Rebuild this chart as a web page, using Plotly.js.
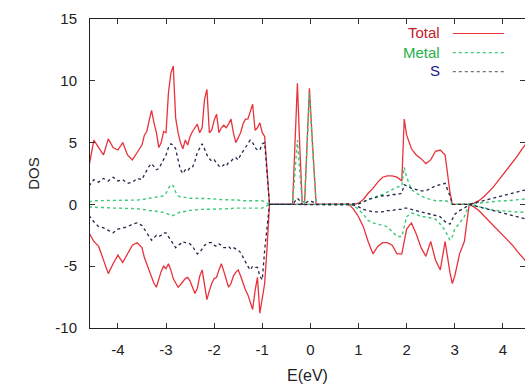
<!DOCTYPE html>
<html><head><meta charset="utf-8">
<script src="https://cdn.plot.ly/plotly-3.0.1.min.js"></script>
<style>html,body{margin:0;padding:0;background:#fff}#chart{width:525px;height:385px}</style>
</head><body><div id="chart"></div>
<script>
// Energy grid (eV): valence band, gap states, conduction band
const energy = [
  -4.6,-4.5,-4.4,-4.3,-4.2,-4.1,-4.0,-3.9,-3.8,-3.7,-3.6,
  -3.5,-3.45,-3.4,-3.35,-3.3,-3.25,-3.2,-3.15,-3.1,-3.05,
  -3.0,-2.95,-2.9,-2.85,-2.8,-2.75,-2.7,-2.65,-2.6,-2.55,
  -2.5,-2.45,-2.4,-2.35,-2.3,-2.25,-2.2,-2.15,-2.1,-2.05,
  -2.0,-1.95,-1.9,-1.85,-1.8,-1.75,-1.7,-1.65,-1.6,-1.55,
  -1.5,-1.45,-1.4,-1.35,-1.3,-1.25,-1.2,-1.15,-1.1,-1.05,
  -1.0,-0.95,-0.9,
  -0.85,-0.37,-0.32,-0.27,-0.22,-0.17,-0.12,-0.07,-0.02,0.05,0.12,
  0.8,0.9,1.0,1.1,1.2,1.3,1.4,1.5,1.6,1.7,
  1.8,1.9,1.95,2.0,2.1,2.2,2.3,2.4,2.5,2.6,
  2.7,2.8,2.9,2.95,3.0,3.1,3.2,3.3,3.4,3.5,
  3.6,3.7,3.8,3.9,4.0,4.1,4.2,4.3,4.4,4.5
];
// Spin up
const totalUp = [
  3.1,5.2,4.6,4.0,5.3,4.6,4.4,5.0,4.0,3.6,4.2,
  4.8,5.6,5.9,6.8,7.6,6.6,5.8,4.6,5.0,5.9,
  5.8,9.0,10.6,11.2,7.0,5.8,5.0,4.5,5.2,4.8,
  5.5,5.9,6.2,6.5,5.8,6.2,8.5,9.3,5.8,6.0,
  6.8,7.3,5.8,6.2,6.4,6.2,6.5,6.9,5.8,5.0,
  5.4,5.8,6.5,6.9,6.9,7.5,8.1,6.0,6.2,6.6,
  5.8,5.5,2.8,
  0,0,5.0,9.8,4.6,0.2,0.2,4.8,9.4,4.5,0,
  0,0,0.1,0.4,0.9,1.3,1.8,2.2,2.3,2.3,
  2.2,1.9,6.9,5.6,4.5,4.0,3.7,3.3,3.6,4.3,
  4.4,4.0,1.0,0,0,0,0,0,0.1,0.3,
  0.6,1.0,1.4,1.9,2.4,2.9,3.4,3.9,4.5,5.0
];
const metalUp = [
  0.2,0.3,0.3,0.3,0.3,0.3,0.3,0.3,0.3,0.35,0.35,
  0.4,0.4,0.45,0.5,0.5,0.55,0.6,0.6,0.65,0.7,
  0.9,1.3,1.6,1.5,1.0,0.7,0.6,0.6,0.55,0.55,
  0.5,0.5,0.5,0.5,0.5,0.5,0.5,0.5,0.45,0.45,
  0.45,0.4,0.4,0.4,0.4,0.4,0.4,0.35,0.35,0.35,
  0.35,0.3,0.3,0.3,0.3,0.3,0.3,0.3,0.3,0.3,
  0.3,0.2,0.1,
  0,0,2.7,5.2,2.6,0.1,0.1,4.5,9.0,4.2,0,
  0,0,0.05,0.2,0.4,0.5,0.7,0.8,1.0,1.2,
  1.4,1.5,3.0,2.2,1.2,0.9,0.7,0.5,0.4,0.3,
  0.3,0.3,0.2,0,0,0,0,0,0.05,0.1,
  0.15,0.2,0.2,0.25,0.3,0.3,0.35,0.4,0.4,0.45
];
const sUp = [
  1.5,2.0,1.8,2.1,1.9,2.2,1.9,2.0,1.7,1.8,2.1,
  2.0,2.4,2.8,3.1,3.3,3.0,2.8,2.9,3.3,3.6,
  4.0,4.6,4.9,4.8,4.5,3.6,2.8,2.5,2.8,2.7,
  3.0,3.0,3.5,4.2,4.5,4.9,4.5,4.0,3.7,3.5,
  3.6,3.3,3.1,3.0,3.2,3.1,3.4,3.5,3.7,3.8,
  3.6,4.0,4.3,4.6,4.9,5.2,5.0,4.6,4.4,4.4,
  4.9,5.0,2.5,
  0,0,0.3,0.5,0.3,0,0,0.2,0.3,0.2,0,
  0,0,0.05,0.2,0.4,0.5,0.6,0.7,0.7,0.8,
  0.8,0.9,1.6,1.5,1.3,1.2,1.1,1.1,1.3,1.5,
  1.6,1.7,0.7,0,0,0,0,0,0.1,0.2,
  0.3,0.4,0.5,0.6,0.7,0.8,0.9,1.0,1.1,1.2
];
// Spin down
const totalDn = [
  -2.3,-3.0,-3.4,-4.5,-5.6,-4.8,-4.1,-4.7,-4.0,-3.3,-3.1,
  -3.5,-4.3,-4.8,-5.3,-5.9,-6.4,-6.7,-6.0,-5.4,-5.0,
  -5.2,-4.8,-5.3,-6.0,-6.4,-6.7,-6.5,-6.2,-6.0,-5.9,
  -6.2,-6.7,-7.2,-6.8,-5.8,-5.3,-6.4,-7.7,-7.0,-6.4,
  -6.0,-5.9,-5.3,-4.8,-5.4,-6.0,-6.7,-6.4,-5.8,-5.5,
  -5.3,-5.8,-6.4,-6.9,-7.3,-7.9,-8.5,-7.0,-5.9,-8.8,
  -7.6,-6.4,-3.5,
  0,0,0,0,0,0,0,0,0,0,0,
  0,-0.4,-1.0,-1.8,-3.0,-4.0,-3.4,-3.1,-3.1,-3.3,
  -4.0,-4.0,-3.0,-2.0,-1.5,-2.4,-3.5,-4.2,-3.0,-4.5,
  -5.3,-3.0,-5.5,-6.4,-5.8,-4.0,-3.0,0,-0.2,-0.5,
  -0.9,-1.3,-1.7,-2.1,-2.5,-2.9,-3.3,-3.8,-4.3,-4.7
];
const metalDn = [
  -0.2,-0.25,-0.25,-0.25,-0.3,-0.3,-0.3,-0.3,-0.3,-0.35,-0.35,
  -0.4,-0.4,-0.45,-0.5,-0.5,-0.55,-0.55,-0.6,-0.6,-0.65,
  -0.7,-0.8,-0.9,-0.9,-0.8,-0.7,-0.6,-0.6,-0.55,-0.5,
  -0.5,-0.45,-0.45,-0.4,-0.4,-0.4,-0.4,-0.4,-0.4,-0.4,
  -0.4,-0.35,-0.35,-0.35,-0.35,-0.35,-0.35,-0.35,-0.3,-0.3,
  -0.3,-0.3,-0.3,-0.3,-0.3,-0.3,-0.3,-0.3,-0.3,-0.3,
  -0.3,-0.2,-0.1,
  0,0,0,0,0,0,0,0,0,0,0,
  0,-0.1,-0.4,-0.8,-1.3,-1.5,-1.6,-1.7,-1.8,-2.2,
  -2.6,-2.6,-1.8,-1.0,-0.7,-0.8,-1.0,-1.0,-1.1,-1.2,
  -1.6,-2.1,-2.9,-2.6,-2.0,-1.5,-1.0,0,-0.1,-0.2,
  -0.3,-0.4,-0.45,-0.5,-0.5,-0.55,-0.6,-0.6,-0.6,-0.65
];
const sDn = [
  -0.9,-1.4,-1.8,-1.9,-2.1,-2.3,-2.0,-1.9,-1.8,-1.6,-1.5,
  -1.7,-2.0,-2.3,-2.6,-2.9,-2.7,-2.5,-2.6,-2.5,-2.3,
  -2.3,-2.6,-2.9,-3.2,-3.5,-3.3,-3.2,-3.0,-3.1,-3.1,
  -3.2,-3.4,-3.7,-4.0,-3.9,-3.6,-3.3,-3.2,-3.1,-3.1,
  -3.3,-3.4,-3.2,-3.3,-3.5,-3.5,-3.4,-3.6,-3.5,-3.6,
  -3.7,-3.9,-4.3,-4.6,-5.0,-5.3,-5.0,-5.1,-5.1,-5.8,
  -6.1,-3.7,-2.0,
  0,0,0,0,0,0,0,0,0,0,0,
  0,-0.05,-0.2,-0.4,-0.5,-0.6,-0.6,-0.6,-0.5,-0.5,
  -0.4,-0.4,-0.3,-0.3,-0.4,-0.5,-0.6,-0.7,-0.8,-0.9,
  -1.0,-1.4,-1.6,-1.2,-0.8,-0.5,-0.3,0,-0.1,-0.2,
  -0.3,-0.4,-0.5,-0.6,-0.7,-0.8,-0.9,-1.0,-1.1,-1.2
];

const seriesNames = ['Total', 'Metal', 'S'];
const xTickVals = [-4, -3, -2, -1, 0, 1, 2, 3, 4];
const xTickText = ['-4', '-3', '-2', '-1', '0', '1', '2', '3', '4'];
const yTickVals = [-10, -5, 0, 5, 10, 15];
const yTickText = ['-10', '-5', '0', '5', '10', '15'];

const all = {totalUp, metalUp, sUp, totalDn, metalDn, sDn};
for (const k in all) {
  if (all[k].length !== energy.length) throw new Error(k + ' length ' + all[k].length + ' vs ' + energy.length);
}

const lineColors = ['#e8323c', '#3cc878', '#20284a'];
const textColors = ['#c0202c', '#1fb04a', '#1a1a8a'];
const dashes = ['solid', 'dot', 'dot'];
const widths = [1.3, 1.4, 1.3];
const ups = [totalUp, metalUp, sUp];
const dns = [totalDn, metalDn, sDn];

const traces = [];
for (let i = 0; i < 3; i++) {
  [ups[i], dns[i]].forEach((arr, j) => {
    traces.push({
      x: energy, y: arr, type: 'scatter', mode: 'lines',
      name: seriesNames[i] + (j ? ' (down)' : ' (up)'),
      showlegend: false, hoverinfo: 'skip',
      line: {color: lineColors[i], width: widths[i], dash: dashes[i]}
    });
  });
}

const font = 'Liberation Sans, Arial, Helvetica, sans-serif';
// legend drawn in paper coordinates (text right of frame, sample line to the right)
const legY = [0.955, 0.893, 0.832];
const annotations = seriesNames.map((n, i) => ({
  xref: 'paper', yref: 'paper', x: 0.809, y: legY[i], xanchor: 'right', yanchor: 'middle',
  text: n, showarrow: false, font: {family: font, size: 15, color: textColors[i]}
}));
const shapes = seriesNames.map((n, i) => ({
  type: 'line', xref: 'paper', yref: 'paper', x0: 0.834, x1: 0.952, y0: legY[i] - 0.002, y1: legY[i] - 0.002,
  line: {color: i === 2 ? '#707080' : lineColors[i], width: 1.2, dash: dashes[i]}
}));

const axisCommon = {
  showline: true, linecolor: '#222', linewidth: 1, mirror: 'ticks',
  ticks: 'inside', ticklen: 5, tickcolor: '#333', tickwidth: 1,
  showgrid: false, zeroline: false, tickmode: 'array',
  tickfont: {family: font, size: 15, color: '#222'}
};

const layout = {
  width: 525, height: 385,
  margin: {l: 90, r: 0, t: 19, b: 57},
  paper_bgcolor: '#fff', plot_bgcolor: '#fff',
  xaxis: Object.assign({}, axisCommon, {
    range: [-4.58, 4.46], tickvals: xTickVals, ticktext: xTickText,
    ticklabelstandoff: 8,
    title: {text: 'E(eV)', font: {family: font, size: 16, color: '#222'}, standoff: 12}
  }),
  yaxis: Object.assign({}, axisCommon, {
    range: [-10, 15], tickvals: yTickVals, ticktext: yTickText,
    ticklabelstandoff: 9,
    title: {text: 'DOS', font: {family: font, size: 15, color: '#222'}, standoff: 12}
  }),
  annotations: annotations,
  shapes: shapes,
  showlegend: false
};

Plotly.newPlot('chart', traces, layout, {staticPlot: true, displayModeBar: false});
</script></body></html>
